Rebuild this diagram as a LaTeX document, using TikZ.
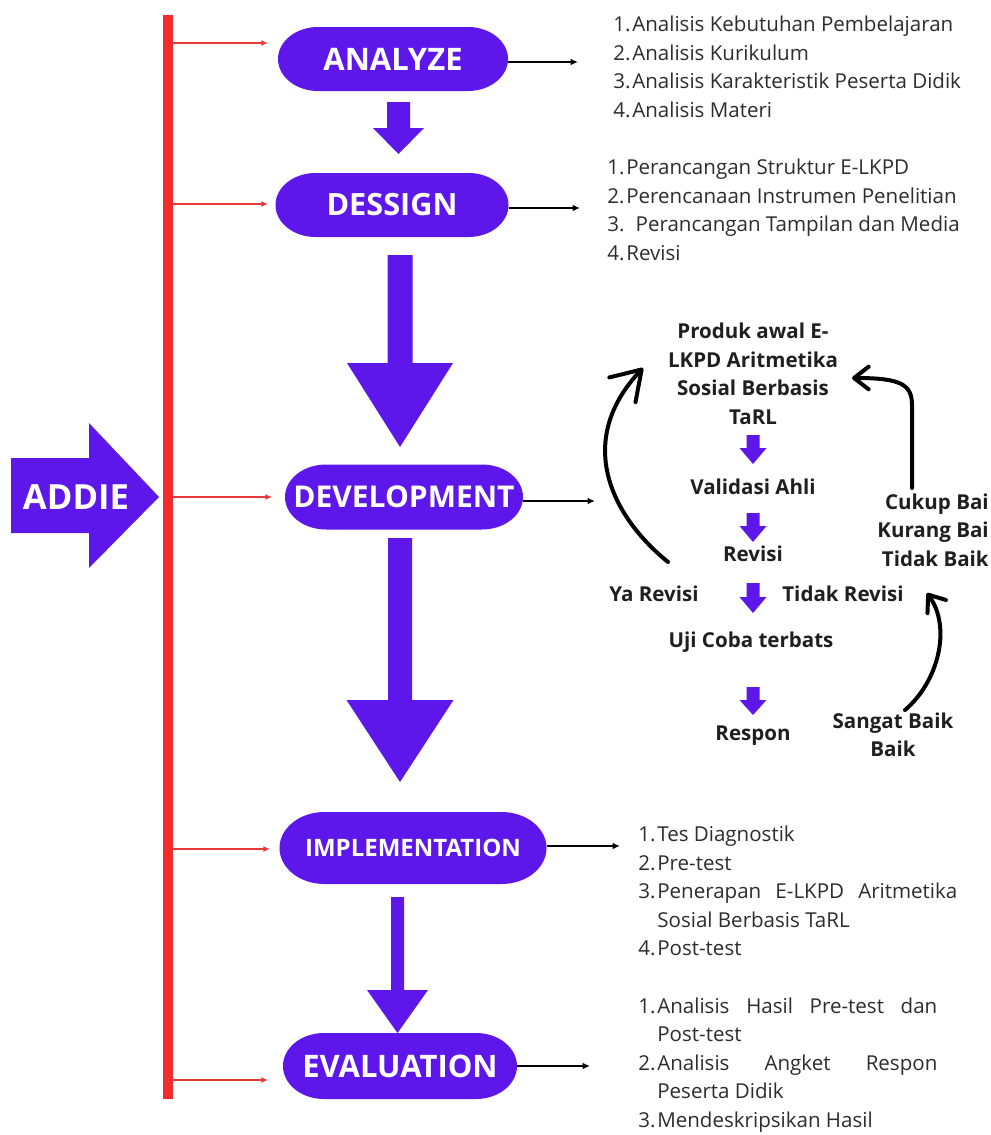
\documentclass[tikz,border=0pt]{standalone}
\usepackage{fontspec}
\setmainfont{Open Sans}
\usetikzlibrary{arrows.meta}
\definecolor{pur}{RGB}{94,23,235}
\definecolor{redbar}{RGB}{242,44,44}
\definecolor{redln}{RGB}{230,58,58}
\definecolor{txt}{RGB}{45,45,45}
\newcommand\fatdown[6]{\fill[pur] ({#1-#5},#2) -- ({#1+#5},#2) -- ({#1+#5},#3) -- ({#1+#6},#3) -- (#1,#4) -- ({#1-#6},#3) -- ({#1-#5},#3) -- cycle;}
\newcommand\ovalfill[5]{\fill[pur] ({#1-#3+#5},{#2-#4}) -- ({#1+#3-#5},{#2-#4}) arc[start angle=90,end angle=-90,x radius=#5*0.75pt,y radius=#4*0.75pt] -- ({#1-#3+#5},{#2+#4}) arc[start angle=270,end angle=90,x radius=#5*0.75pt,y radius=#4*0.75pt] -- cycle;}
\newcommand\numit[2]{\makebox[14.3pt][l]{#1}#2}
\begin{document}
\begin{tikzpicture}[x=0.75pt,y=-0.75pt,
  phase/.style={text=white,inner sep=0pt},
  redarr/.style={draw=redln,line width=1.1pt,-{Latex[length=5pt,width=4.5pt]}},
  blkarr/.style={draw=black,line width=1.4pt,-{Latex[length=5.5pt,width=5pt]}},
  curv/.style 2 args={draw=black,line width=3pt,line cap=round,-{Straight Barb[length=#1,width=#2,round]}},
  lst/.style={anchor=west,align=left,inner sep=0pt,text=txt,font=\fontsize{15.4}{21.4}\selectfont},
  sub/.style={inner sep=0pt,align=center,text=black!88,font=\bfseries\fontsize{15.4}{21.4}\selectfont}]
\useasboundingbox (0,0) rectangle (990,1135);
\fill[white] (0,0) rectangle (990,1135);

% red vertical bar
\node[fill=redbar,inner sep=0pt,minimum width=7.5pt,minimum height=813pt] (bar) at (168,557) {};

% ADDIE arrow
\fill[pur] (11,458) -- (89,458) -- (89,423) -- (159,497) -- (89,568) -- (89,533) -- (11,533) -- cycle;
\node[text=white,inner sep=0pt,font=\bfseries\fontsize{26}{30}\selectfont] (addie) at (76,497) {ADDIE};

% phase ovals
\ovalfill{393}{59}{115}{32}{40}
\ovalfill{392}{205}{116.5}{32}{40}
\ovalfill{404}{497}{119}{32.5}{41}
\ovalfill{413}{848}{133.5}{36}{45}
\ovalfill{400}{1066}{117}{33}{41}
\node[phase,minimum width=172.5pt,minimum height=48pt,font=\bfseries\fontsize{23.25}{28}\selectfont] (ana) at (393,59) {ANALYZE};
\node[phase,minimum width=174.75pt,minimum height=48pt,font=\bfseries\fontsize{23}{28}\selectfont] (des) at (392,205) {DESSIGN};
\node[phase,minimum width=178.5pt,minimum height=48.75pt,font=\bfseries\fontsize{22.5}{28}\selectfont] (dev) at (404,497) {DEVELOPMENT};
\node[phase,minimum width=200pt,minimum height=54pt,font=\bfseries\fontsize{18}{22}\selectfont] (imp) at (413,848) {IMPLEMENTATION};
\node[phase,minimum width=175.5pt,minimum height=49.5pt,font=\bfseries\fontsize{23.25}{28}\selectfont] (eva) at (400,1066) {EVALUATION};

% big down arrows
\fatdown{398.5}{102}{128}{154}{11.5}{25.5}
\fatdown{400}{255}{363}{447}{12.5}{53}
\fatdown{400}{538}{700}{782}{12}{53.5}
\fatdown{397.5}{897}{990}{1033}{6.5}{30.5}

% red arrows
\coordinate (ra) at (268,43);
\coordinate (rd) at (268,204);
\coordinate (rv) at (272,497);
\coordinate (ri) at (270,849);
\coordinate (re) at (268,1080);
\draw[redarr] (bar.east |- ra) -- (ra);
\draw[redarr] (bar.east |- rd) -- (rd);
\draw[redarr] (bar.east |- rv) -- (rv);
\draw[redarr] (bar.east |- ri) -- (ri);
\draw[redarr] (bar.east |- re) -- (re);

% black arrows
\coordinate (ba) at (578,62);
\coordinate (bd) at (580,208);
\coordinate (bv) at (595,501);
\coordinate (bi) at (620,846);
\coordinate (be) at (590,1066);
\draw[blkarr] (ana.east |- ba) -- (ba);
\draw[blkarr] (des.east |- bd) -- (bd);
\draw[blkarr] (dev.east |- bv) -- (bv);
\draw[blkarr] (imp.east |- bi) -- (bi);
\draw[blkarr] (eva.east |- be) -- (be);

% lists
\node[lst] (la) at (613,67) {\numit{1.}{Analisis Kebutuhan Pembelajaran}\\
\numit{2.}{Analisis Kurikulum}\\
\numit{3.}{Analisis Karakteristik Peserta Didik}\\
\numit{4.}{Analisis Materi}};
\node[lst] (ld) at (607,210) {\numit{1.}{Perancangan Struktur E-LKPD}\\
\numit{2.}{Perencanaan Instrumen Penelitian}\\
\numit{3.}{\hspace{7pt}Perancangan Tampilan dan Media}\\
\numit{4.}{Revisi}};
\node[lst] (li) at (638,891) {\numit{1.}{Tes Diagnostik}\\
\numit{2.}{Pre-test}\\
\numit{3.}{\makebox[225pt][s]{Penerapan E-LKPD Aritmetika}}\\
\numit{}{Sosial Berbasis TaRL}\\
\numit{4.}{Post-test}};
\node[lst] (le) at (638,1065) {\numit{1.}{\makebox[210pt][s]{Analisis Hasil Pre-test dan}}\\
\numit{}{Post-test}\\
\numit{2.}{\makebox[210pt][s]{Analisis Angket Respon}}\\
\numit{}{Peserta Didik}\\
\numit{3.}{Mendeskripsikan Hasil}};

% development sub-diagram
\node[sub] (prod) at (753,374) {Produk awal E-\\LKPD Aritmetika\\Sosial Berbasis\\TaRL};
\fatdown{753}{435}{448}{464}{6.5}{13.5}
\node[sub] (val) at (753,487) {Validasi Ahli};
\fatdown{753}{513}{526}{542}{6.5}{13.5}
\node[sub] (rev) at (753,554) {Revisi};
\fatdown{753}{583}{597}{613}{6.5}{13.5}
\node[sub] (ya) at (654,594) {Ya Revisi};
\node[sub] (tdk) at (843,594) {Tidak Revisi};
\node[sub] (uji) at (751,642) {Uji Coba terbats};
\fatdown{753}{687}{700}{715}{6.5}{13.5}
\node[sub] (resp) at (753,736) {Respon};
\node[sub] (sb) at (893,735) {Sangat Baik\\Baik};
\node[sub,anchor=east,align=right] (ck) at (989,530) {Cukup Bai\\Kurang Bai\\Tidak Baik};

% curved arrows
\coordinate (c1s) at (668,562);
\coordinate (c1e) at (643,368);
\coordinate (c2s) at (912,488);
\coordinate (c2e) at (852,378);
\coordinate (c3s) at (905,710);
\coordinate (c3e) at (927,593);
\draw[curv={21pt}{27pt}] (c1s) .. controls (610,515) and (575,440) .. (c1e);
\draw[curv={11pt}{17pt}] (c2s) -- (912,405) .. controls (912,384) and (900,378) .. (c2e);
\draw[curv={11pt}{17pt}] (c3s) .. controls (938,682) and (952,628) .. (c3e);
\end{tikzpicture}
\end{document}
